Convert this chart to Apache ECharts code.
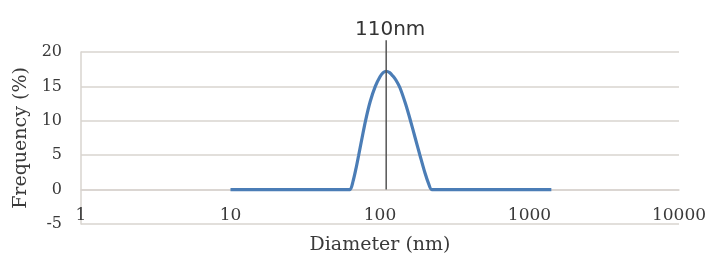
<!DOCTYPE html>
<html>
<head>
<meta charset="utf-8">
<script src="https://cdn.jsdelivr.net/npm/echarts@6/dist/echarts.min.js"></script>
<style>
  html, body { margin: 0; padding: 0; background: #fff; }
  #chart { width: 711px; height: 260px; }
</style>
</head>
<body>
<div id="chart"></div>
<script>
// size distribution
var diameters = [10, 20, 40, 60, 63, 66, 69, 72, 76, 80, 86, 93, 100, 105, 110, 116, 122, 128, 136, 148, 160, 172, 185, 200, 212, 222, 300, 600, 1000, 1400];
var frequency = [0, 0, 0, 0, 0, 1.2, 3.0, 5.0, 7.6, 10.0, 12.8, 15.0, 16.4, 17.0, 17.2, 17.0, 16.5, 15.9, 14.8, 12.5, 10.0, 7.5, 5.0, 2.4, 0.8, 0, 0, 0, 0, 0];
var peakDiameter = 110;
var peakLabel = "110nm";
var peakLineTop = 21.7; // marker line runs a bit above the plot
var yTicks = { min: -5, max: 20, step: 5 };
var xRange = { min: 1, max: 10000 };

var gridColor = "#d9d4cf";
var serif = "DejaVu Serif";

var chart = echarts.init(document.getElementById("chart"));
chart.setOption({
  animation: false,
  grid: { left: 81, right: 32, top: 52, bottom: 33 },
  xAxis: {
    type: "log",
    logBase: 10,
    min: xRange.min,
    max: xRange.max,
    name: "Diameter (nm)",
    nameLocation: "middle",
    nameGap: 12,
    nameTextStyle: { fontFamily: serif, fontSize: 19, color: "#3a3a3a", verticalAlign: "top" },
    axisLine: { show: true, lineStyle: { color: gridColor, width: 1.5 } },
    axisTick: { show: false },
    splitLine: { show: false },
    minorTick: { show: false },
    axisLabel: {
      margin: -17,
      fontFamily: serif,
      fontSize: 17,
      color: "#3a3a3a",
      formatter: function (v) { return String(Math.round(v)); }
    }
  },
  yAxis: {
    type: "value",
    min: yTicks.min,
    max: yTicks.max,
    interval: yTicks.step,
    name: "Frequency (%)",
    nameLocation: "middle",
    nameGap: 47,
    nameTextStyle: { fontFamily: serif, fontSize: 19, color: "#3a3a3a" },
    axisLine: { show: true, lineStyle: { color: gridColor, width: 1.5 } },
    axisTick: { show: false },
    splitLine: { show: true, lineStyle: { color: gridColor, width: 1.5 } },
    axisLabel: { margin: 19, fontFamily: serif, fontSize: 16, color: "#3a3a3a" }
  },
  series: [
    {
      type: "line",
      data: diameters.map(function (d, i) { return [d, frequency[i]]; }),
      showSymbol: false,
      smooth: 0.3,
      lineStyle: { color: "#4b7db6", width: 3.2 },
      z: 2
    },
    {
      type: "line",
      data: [[peakDiameter, 0], [peakDiameter, peakLineTop]],
      clip: false,
      showSymbol: false,
      lineStyle: { color: "#555", width: 1.5 },
      z: 3,
      endLabel: {
        show: true,
        formatter: peakLabel,
        fontFamily: "DejaVu Sans",
        fontSize: 20,
        color: "#333",
        align: "center",
        verticalAlign: "bottom",
        offset: [-4, -1]
      }
    }
  ]
});
</script>
</body>
</html>
